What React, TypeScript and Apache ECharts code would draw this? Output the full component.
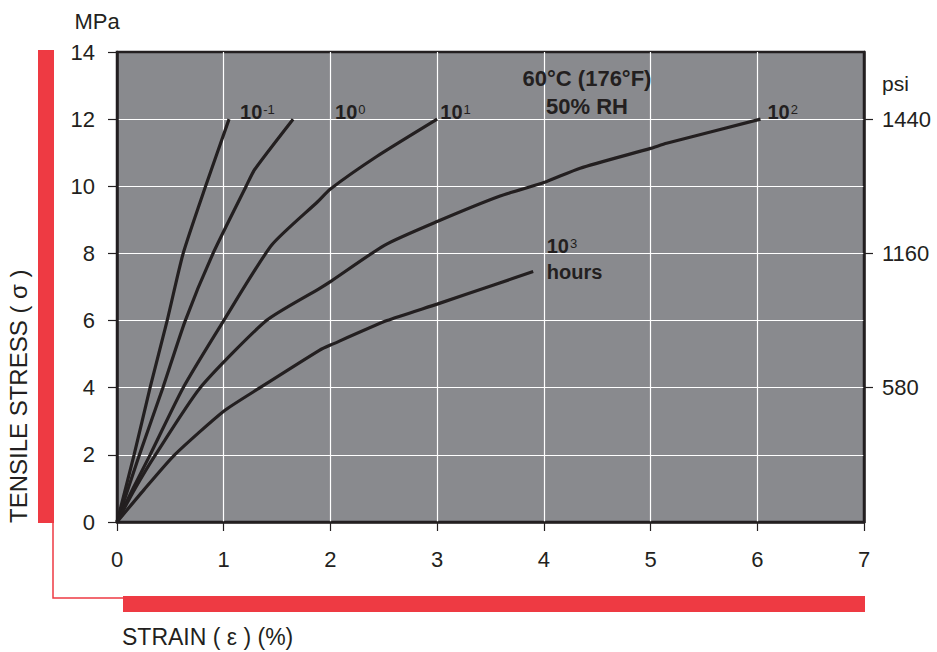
import React, { useEffect, useRef } from "react";
import * as echarts from "echarts";

// ---- data (strain %, stress MPa) ----
const curve01 = [[0, 0], [0.16, 2], [0.31, 4], [0.47, 6], [0.62, 8], [0.83, 10], [1.05, 12]];
const curve1 = [[0, 0], [0.21, 2], [0.43, 4], [0.64, 6], [0.9, 8], [1.21, 10], [1.29, 10.5], [1.65, 12]];
const curve10 = [[0, 0], [0.15, 1], [0.31, 2], [0.62, 4], [1.0, 6], [1.45, 8.25], [1.88, 9.54], [2.0, 9.92], [2.43, 10.88], [3.0, 12]];
const curve100 = [[0, 0], [0.17, 1], [0.36, 2], [0.78, 4], [1.4, 6], [1.9, 6.96], [2.0, 7.16], [2.51, 8.25], [3.0, 8.95], [3.59, 9.71], [4.0, 10.11], [4.34, 10.54], [5.0, 11.13], [5.15, 11.28], [6.03, 12]];
const curve1000 = [[0, 0], [0.25, 0.95], [0.54, 2], [1.0, 3.3], [1.34, 4], [1.9, 5.12], [2.0, 5.27], [2.53, 6.0], [3.0, 6.49], [3.53, 7.06], [3.9, 7.46]];

const curveNames = ["10^-1", "10^0", "10^1", "10^2", "10^3"];
const curves = [curve01, curve1, curve10, curve100, curve1000];

// curve labels: [strain, stress, base text, superscript]
const curveLabels = [
  [1.153, 12.21, "10", "-1"],
  [2.043, 12.21, "10", "0"],
  [3.03, 12.21, "10", "1"],
  [6.095, 12.21, "10", "2"],
  [4.027, 8.23, "10", "3"],
  [4.027, 7.45, "hours", ""],
];

const psiPositions = [4, 8, 12];
const psiLabels = ["580", "1160", "1440"];

const conditionLines = ["60°C (176°F)", "50% RH"];

const FONT = "'Liberation Sans', Arial, Helvetica, sans-serif";
const INK = "#231f20";
const RED = "#ee3a43";
const PANEL = "#898a8e";

export default function App() {
  const ref = useRef<HTMLDivElement>(null);
  useEffect(() => {
    if (!ref.current) return;
    const chart = echarts.init(ref.current, null, { renderer: "svg" });
    const option: any = {
      animation: false,
      textStyle: { fontFamily: FONT },
      grid: {
        left: 117,
        right: 73,
        top: 52,
        bottom: 130,
        show: true,
        backgroundColor: PANEL,
        borderColor: INK,
        borderWidth: 2.5,
      },
      xAxis: {
        type: "value",
        min: 0,
        max: 7,
        interval: 1,
        axisLine: { show: true, onZero: false, lineStyle: { color: INK, width: 2.5 } },
        axisTick: { show: true, inside: false, length: 9, lineStyle: { color: INK, width: 1.2 } },
        axisLabel: { fontSize: 22, color: INK, margin: 26, fontFamily: FONT },
        splitLine: { show: true, showMinLine: false, showMaxLine: false, lineStyle: { color: "#ffffff", width: 1.2 } },
      },
      yAxis: [
        {
          type: "value",
          min: 0,
          max: 14,
          interval: 2,
          axisLine: { show: true, onZero: false, lineStyle: { color: INK, width: 2.5 } },
          axisTick: { show: true, inside: false, length: 9, lineStyle: { color: INK, width: 1.2 } },
          axisLabel: { fontSize: 22, color: INK, margin: 22, fontFamily: FONT },
          splitLine: { show: true, showMinLine: false, showMaxLine: false, lineStyle: { color: "#ffffff", width: 1.2 } },
        },
        {
          type: "value",
          position: "right",
          min: 0,
          max: 14,
          interval: 2,
          axisLine: { show: true, onZero: false, lineStyle: { color: INK, width: 2.5 } },
          axisTick: { show: true, inside: false, length: 9, customValues: psiPositions, lineStyle: { color: INK, width: 1.2 } },
          axisLabel: {
            fontSize: 22,
            color: INK,
            margin: 18,
            fontFamily: FONT,
            customValues: psiPositions,
            formatter: (v: number) => {
              const i = psiPositions.indexOf(v);
              return i >= 0 ? psiLabels[i] : "";
            },
          },
          splitLine: { show: false },
        },
      ],
      series: [
        ...curves.map((d, i) => ({
          type: "line",
          name: curveNames[i],
          data: d,
          symbol: "none",
          smooth: 0.2,
          lineStyle: { color: INK, width: 3.2 },
          z: 3,
        })),
        {
          type: "scatter",
          data: curveLabels.map((l) => [l[0], l[1]]),
          symbolSize: 0,
          silent: true,
          itemStyle: { opacity: 1 },
          z: 5,
          label: {
            show: true,
            position: "right",
            distance: 0,
            opacity: 1,
            formatter: (p: any) => {
              const item = curveLabels[p.dataIndex];
              return item[3] ? `{b|${item[2]}}{s|${item[3]}}` : `{b|${item[2]}}`;
            },
            rich: {
              b: { fontSize: 20, fontWeight: "bold", color: INK, fontFamily: FONT, lineHeight: 22 },
              s: { fontSize: 13, color: INK, fontFamily: FONT, verticalAlign: "top", lineHeight: 13, padding: [2, 0, 0, 1] },
            },
          },
        },
      ],
      graphic: [
        { type: "rect", shape: { x: 38, y: 50, width: 16, height: 473 }, style: { fill: RED } },
        { type: "rect", shape: { x: 123, y: 596, width: 742, height: 16 }, style: { fill: RED } },
        {
          type: "polyline",
          shape: { points: [[53, 522], [53, 598], [123, 598]] },
          style: { stroke: RED, lineWidth: 1.5, fill: null },
        },
        {
          type: "text",
          x: 97,
          y: 21,
          style: { text: "MPa", fontSize: 22, fill: INK, fontFamily: FONT, textAlign: "center", textVerticalAlign: "middle" },
        },
        {
          type: "text",
          x: 882,
          y: 83,
          style: { text: "psi", fontSize: 21, fill: INK, fontFamily: FONT, textAlign: "left", textVerticalAlign: "middle" },
        },
        {
          type: "text",
          x: 18,
          y: 523,
          rotation: Math.PI / 2,
          style: { text: "TENSILE STRESS ( σ )", fontSize: 24, fill: INK, fontFamily: FONT, textAlign: "left", textVerticalAlign: "middle" },
        },
        {
          type: "text",
          x: 122,
          y: 637,
          style: { text: "STRAIN ( ε ) (%)", fontSize: 23, fill: INK, fontFamily: FONT, textAlign: "left", textVerticalAlign: "middle" },
        },
        {
          type: "text",
          x: 587,
          y: 78,
          z: 10,
          style: { text: conditionLines[0], fontSize: 22, fontWeight: "bold", fill: INK, fontFamily: FONT, textAlign: "center", textVerticalAlign: "middle" },
        },
        {
          type: "text",
          x: 587,
          y: 106,
          z: 10,
          style: { text: conditionLines[1], fontSize: 22, fontWeight: "bold", fill: INK, fontFamily: FONT, textAlign: "center", textVerticalAlign: "middle" },
        },
      ],
    };
    chart.setOption(option);
    return () => chart.dispose();
  }, []);
  return (
    <div
      ref={ref}
      style={{ position: "fixed", left: 0, top: 0, width: 937, height: 652, background: "#ffffff" }}
    />
  );
}
